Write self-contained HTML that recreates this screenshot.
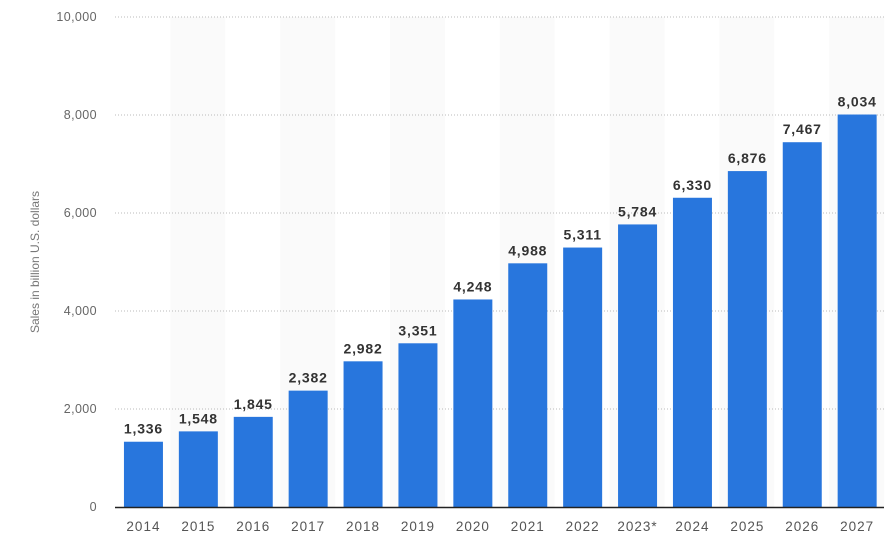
<!DOCTYPE html>
<html><head><meta charset="utf-8"><style>
html,body{margin:0;padding:0;background:#fff;}
svg{display:block;font-family:"Liberation Sans",sans-serif;}
</style></head><body>
<svg width="896" height="547" xmlns="http://www.w3.org/2000/svg">
<g id="bands"></g>
<g id="grid"></g>
<g id="bars"></g>
<line x1="115" y1="507.5" x2="884" y2="507.5" stroke="#222" stroke-width="1.5"/>
<text transform="translate(39,262) rotate(-90)" text-anchor="middle" font-size="12" fill="#777">Sales in billion U.S. dollars</text>
<script>
const ns="http://www.w3.org/2000/svg";
const vals=[1336,1548,1845,2382,2982,3351,4248,4988,5311,5784,6330,6876,7467,8034];
const yrs=["2014","2015","2016","2017","2018","2019","2020","2021","2022","2023*","2024","2025","2026","2027"];
const base=507,sc=0.049,x0=115.5,bw=54.9;
function el(t,a,p,txt){const e=document.createElementNS(ns,t);for(const k in a)e.setAttribute(k,a[k]);if(txt!==undefined)e.textContent=txt;document.getElementById(p).appendChild(e);return e;}
for(let i=0;i<14;i++){if(i%2==1)el('rect',{x:x0+i*bw,y:17,width:bw,height:490,fill:'#fafafa'},'bands');}
for(let v=0;v<=10000;v+=2000){const y=base-v*sc;if(v>0)el('line',{x1:115,y1:y,x2:884,y2:y,stroke:'#bbb','stroke-dasharray':'1,2','stroke-width':1},'grid');
el('text',{x:97,y:y+4,'text-anchor':'end','font-size':12.5,fill:'#666','letter-spacing':0.4},'grid',v.toLocaleString('en-US'));}
vals.forEach((v,i)=>{const cx=x0+i*bw+bw/2+0.5;const h=v*sc*0.997;
el('rect',{x:cx-19.5,y:base-h,width:39,height:h,fill:'#2876dd'},'bars');
el('text',{x:cx,y:base-h-8,'text-anchor':'middle','font-size':14,'font-weight':'bold',fill:'#333','letter-spacing':0.8},'bars',v.toLocaleString('en-US'));
el('text',{x:cx,y:531,'text-anchor':'middle','font-size':13.5,fill:'#555','letter-spacing':1},'bars',yrs[i]);});
</script>
</svg>
</body></html>
